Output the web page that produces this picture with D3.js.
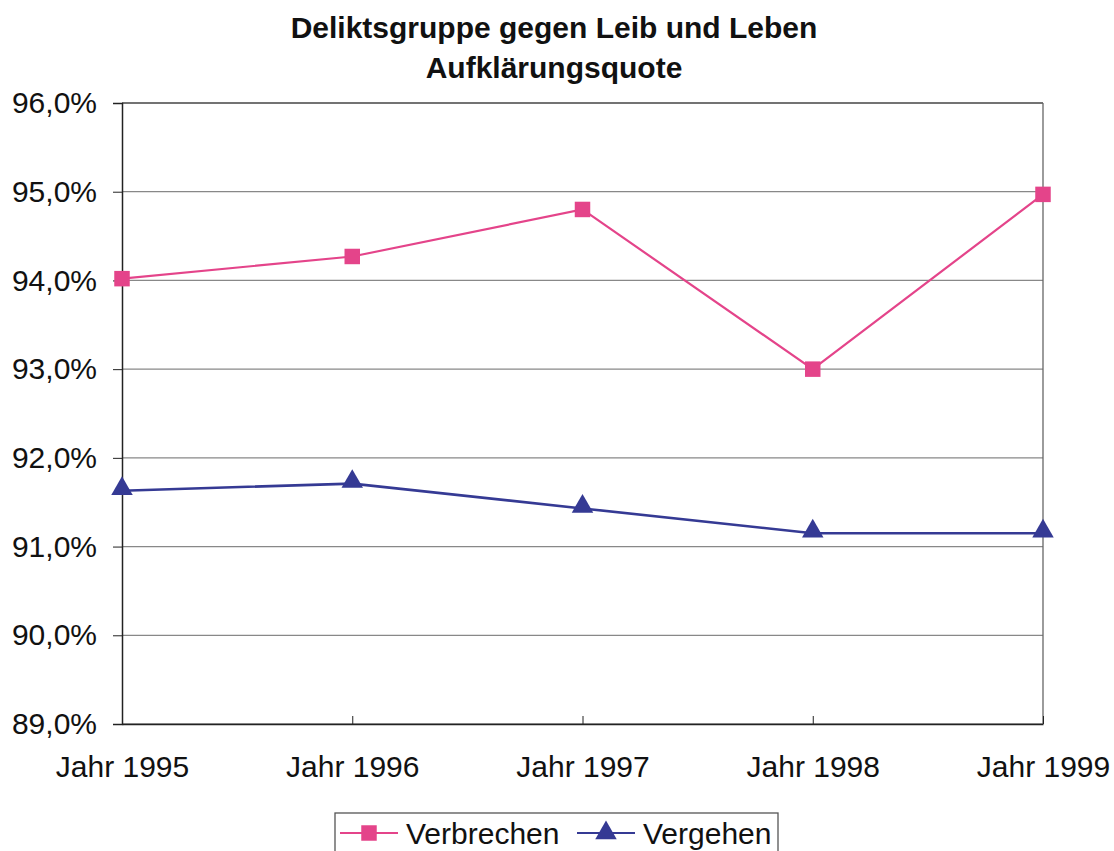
<!DOCTYPE html>
<html>
<head>
<meta charset="utf-8">
<script src="https://cdn.jsdelivr.net/npm/d3@7"></script>
<style>
  body { margin: 0; background: #fff; }
  text { font-family: "Liberation Sans", Arial, sans-serif; fill: #111; }
</style>
</head>
<body>
<svg id="chart" width="1114" height="851"></svg>
<script>
var years = ["Jahr 1995", "Jahr 1996", "Jahr 1997", "Jahr 1998", "Jahr 1999"];
var verbrechen = [94.02, 94.27, 94.80, 93.00, 94.97];
var vergehen = [91.63, 91.71, 91.43, 91.15, 91.15];
var yTicks = [89, 90, 91, 92, 93, 94, 95, 96];
var titleLines = ["Deliktsgruppe gegen Leib und Leben", "Aufklärungsquote"];

var svg = d3.select("#chart");
var plotLeft = 122, plotRight = 1043, plotTop = 103, plotBottom = 724;

var x = d3.scalePoint().domain(years).range([plotLeft, plotRight]);
var y = d3.scaleLinear().domain([89, 96]).range([plotBottom, plotTop]);
var fmt = function(d) { return d3.format(".1f")(d).replace(".", ",") + "%"; };

// title
svg.selectAll(".title")
  .data(titleLines)
  .enter().append("text")
    .attr("x", 554)
    .attr("y", function(d, i) { return 38 + i * 40; })
    .attr("text-anchor", "middle")
    .style("font-size", "30px")
    .style("font-weight", "bold")
    .text(function(d) { return d; });

// gridlines
svg.append("g")
  .selectAll("line")
  .data(yTicks)
  .enter().append("line")
    .attr("x1", plotLeft).attr("x2", plotRight)
    .attr("y1", function(d) { return y(d); })
    .attr("y2", function(d) { return y(d); })
    .attr("stroke", function(d) { return d == 96 ? "#444" : "#888"; })
    .attr("stroke-width", 1.3);

// right border
svg.append("line")
  .attr("x1", plotRight).attr("x2", plotRight)
  .attr("y1", plotTop).attr("y2", plotBottom)
  .attr("stroke", "#666").attr("stroke-width", 1.3);

// y axis
var yAxis = svg.append("g")
  .attr("transform", "translate(" + plotLeft + ",0)")
  .call(d3.axisLeft(y).tickValues(yTicks).tickFormat(fmt).tickSize(9).tickPadding(16));
yAxis.select(".domain").attr("stroke", "#222").attr("stroke-width", 1.5);
yAxis.selectAll("line").attr("stroke", "#222");
yAxis.selectAll("text").style("font-size", "30px").style("fill", "#111");

// x axis
var xAxis = svg.append("g")
  .attr("transform", "translate(0," + plotBottom + ")")
  .call(d3.axisBottom(x).tickSize(0).tickPadding(32));
xAxis.select(".domain").attr("stroke", "#222").attr("stroke-width", 1.5);
xAxis.selectAll("text").style("font-size", "30px").style("fill", "#111");
xAxis.selectAll(".tick").append("line")
  .attr("y1", 0).attr("y2", -8).attr("stroke", "#222");

var line = d3.line()
  .x(function(d, i) { return x(years[i]); })
  .y(function(d) { return y(d); });

var pink = "#e4448a", navy = "#353a94";

svg.append("path").datum(verbrechen)
  .attr("d", line).attr("fill", "none")
  .attr("stroke", pink).attr("stroke-width", 2.2);
svg.append("path").datum(vergehen)
  .attr("d", line).attr("fill", "none")
  .attr("stroke", navy).attr("stroke-width", 2.6);

var sq = d3.symbol().type(d3.symbolSquare).size(240);
var tri = d3.symbol().type(d3.symbolTriangle).size(200);

svg.selectAll(".m1")
  .data(verbrechen)
  .enter().append("path")
    .attr("d", sq)
    .attr("transform", function(d, i) { return "translate(" + x(years[i]) + "," + y(d) + ")"; })
    .attr("fill", pink);

svg.selectAll(".m2")
  .data(vergehen)
  .enter().append("path")
    .attr("d", tri)
    .attr("transform", function(d, i) { return "translate(" + x(years[i]) + "," + (y(d) - 2) + ")"; })
    .attr("fill", navy);

// legend
var lg = svg.append("g");
lg.append("rect")
  .attr("x", 335).attr("y", 813).attr("width", 443).attr("height", 50)
  .attr("fill", "#fff").attr("stroke", "#555").attr("stroke-width", 1.3);

var legendItems = [
  {name: "Verbrechen", color: pink, sym: sq, lx: 340},
  {name: "Vergehen", color: navy, sym: tri, lx: 577}
];
legendItems.forEach(function(d) {
  lg.append("line")
    .attr("x1", d.lx).attr("x2", d.lx + 58)
    .attr("y1", 833).attr("y2", 833)
    .attr("stroke", d.color).attr("stroke-width", 2.2);
  lg.append("path")
    .attr("d", d.sym)
    .attr("transform", "translate(" + (d.lx + 29) + ",833)")
    .attr("fill", d.color);
  lg.append("text")
    .attr("x", d.lx + 66).attr("y", 844)
    .style("font-size", "30px")
    .text(d.name);
});
</script>
</body>
</html>
